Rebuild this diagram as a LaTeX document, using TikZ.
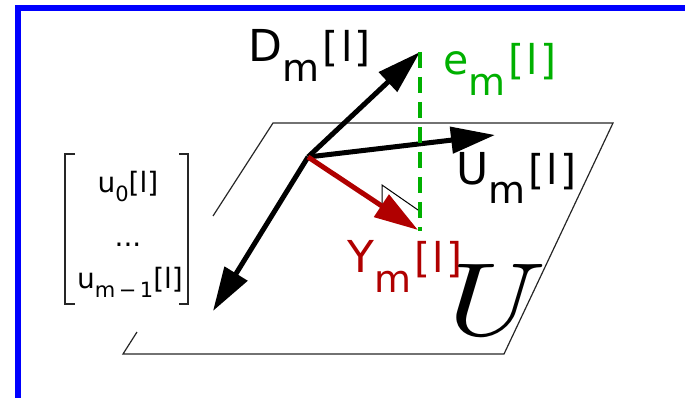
\documentclass[tikz,border=0pt]{standalone}
\usepackage{fontspec}
\setmainfont{DejaVu Sans}
\usetikzlibrary{arrows.meta}
\definecolor{frameblue}{RGB}{0,0,255}
\definecolor{vecred}{RGB}{176,0,0}
\definecolor{errgreen}{RGB}{0,176,0}
\newcommand{\bigtxt}{\fontsize{44}{44}\selectfont}
\newcommand{\midtxt}{\fontsize{41}{41}\selectfont}
\newcommand{\subtxt}{\fontsize{38}{38}\selectfont}
\newcommand{\mtxt}{\fontsize{28}{28}\selectfont}
\newcommand{\msub}{\fontsize{21}{21}\selectfont}
\newcommand{\brl}{\midtxt\kern3pt[\kern2.5pt l\kern2.5pt]}
\begin{document}
\begin{tikzpicture}[x=1pt,y=-1pt,
  vec/.style={line width=5pt,-{Triangle[length=44pt,width=26pt]}},
  plane/.style={draw=black!85,line width=1.2pt},
  lbl/.style={inner sep=0pt,anchor=base west},
  mlbl/.style={inner sep=0pt,anchor=base},
  bracketline/.style={draw=black!85,line width=1.5pt}]
\useasboundingbox (0,0) rectangle (685,398);
\clip (0,0) rectangle (685,398);
% frame
\draw[frameblue,line width=5.5pt] (18,410) -- (18,8) -- (700,8);
% plane U
\draw[plane] (213,216) -- (273,123) -- (613,123) -- (504,354) -- (123,354) -- (137,332);
% coordinates
\coordinate (O) at (308,157);
\coordinate (Dt) at (420,52);
\coordinate (Lt) at (213,311);
\coordinate (Ut) at (495,135);
\coordinate (Yt) at (418,230);
\coordinate (Eb) at (420,231);
\coordinate (Ra) at (382,205);
\coordinate (Rb) at (382,185);
\coordinate (Rc) at (418,210);
% right-angle mark
\draw[black,line width=1pt] (Ra) -- (Rb) -- (Rc);
% vectors
\draw[vec] (O) -- (Dt);
\draw[vec] (O) -- (Lt);
\draw[vec] (O) -- (Ut);
\draw[vec,vecred] (O) -- (Yt);
% error
\draw[errgreen,line width=4pt,dash pattern=on 16pt off 9pt] (Dt) -- (Eb);
% labels
\node[lbl] (dlab) at (248.5,62) {\bigtxt D\raisebox{-20pt}{\subtxt m}\brl};
\node[lbl,text=errgreen] (elab) at (443,75) {\midtxt e\raisebox{-21pt}{\subtxt m}\brl};
\node[lbl] (ulab) at (456,185) {\bigtxt U\raisebox{-19pt}{\subtxt m}\brl};
\node[lbl,text=vecred] (ylab) at (347,272) {\bigtxt Y\raisebox{-20pt}{\subtxt m}\brl};
\node[lbl] (bigU) at (448,335) {\normalsize\scalebox{12.4}[10.4]{$U$}};
% vector of u
\draw[bracketline] (75,154) -- (65,154) -- (65,304) -- (75,304);
\draw[bracketline] (179,154) -- (188,154) -- (188,304) -- (179,304);
\node[mlbl] (u0) at (128,193) {\mtxt u\raisebox{-9pt}{\msub 0}[l]};
\node[mlbl] (udots) at (128,246) {\mtxt ...};
\node[mlbl] (um) at (130,288) {\mtxt u\raisebox{-9pt}{\msub m\,−\,1}[l]};
\end{tikzpicture}
\end{document}
